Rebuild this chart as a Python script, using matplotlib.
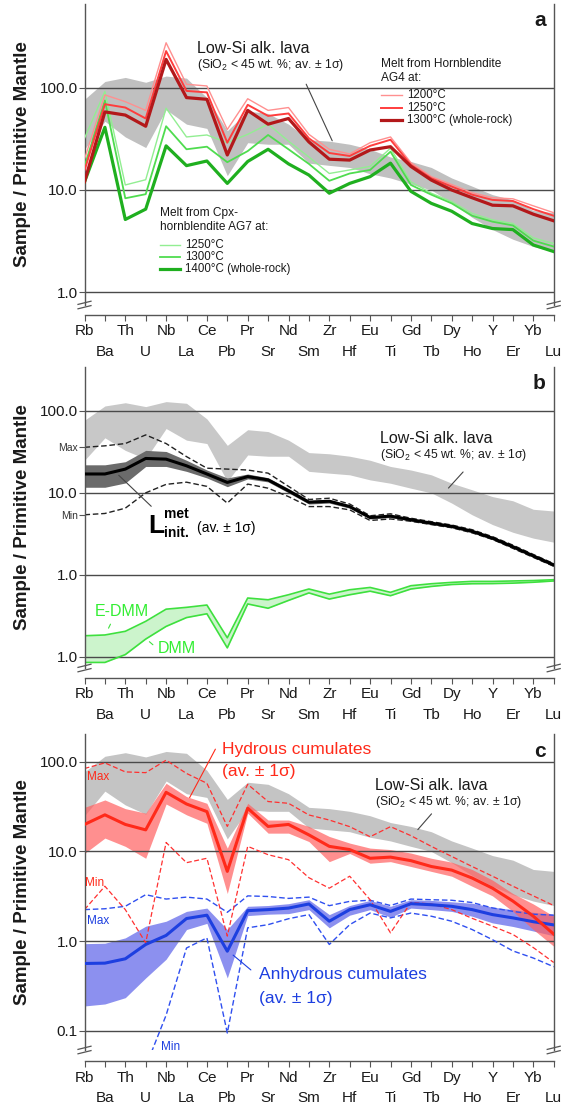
import numpy as np
import matplotlib

matplotlib.use("Agg")

import matplotlib.pyplot as plt
import matplotlib.ticker as mticker
import matplotlib.transforms as mtransforms
from matplotlib.lines import Line2D

plt.rcParams['font.family'] = ['Liberation Sans', 'DejaVu Sans']
plt.rcParams['mathtext.fontset'] = 'custom'
plt.rcParams['mathtext.rm'] = 'Liberation Sans'
plt.rcParams['mathtext.bf'] = 'Liberation Sans:bold'

# Elements of the spider diagram, in plotting order.
elements = ['Rb', 'Ba', 'Th', 'U', 'Nb', 'La', 'Ce', 'Pb', 'Pr', 'Sr', 'Nd',
            'Sm', 'Zr', 'Hf', 'Eu', 'Ti', 'Gd', 'Tb', 'Dy', 'Ho', 'Y', 'Er',
            'Yb', 'Lu']

# Low-Si alkaline lava field (av. +/- 1 sigma), same in every panel.
lavaHigh = [77, 115, 126, 113, 130, 124, 80, 38, 59, 56, 44, 31, 30, 28, 25,
            21, 19, 16.6, 13.1, 10.9, 9.0, 8.0, 6.3, 6.0]
lavaLow = [25, 47, 33, 26, 61, 44, 40, 13.8, 29, 28, 28, 18.3, 17.4, 16.6,
           14.4, 13.1, 11.4, 10.0, 7.5, 5.4, 4.1, 3.3, 2.8, 2.5]

# Panel a: melts from hornblendite AG4.
ag4_1200 = [20, 85, 73, 60, 275, 108, 104, 39, 78, 60, 64, 35, 25, 22.5, 29,
            33, 18.5, 13.5, 11.3, 9.4, 8.4, 8.2, 7.0, 6.0]
ag4_1250 = [15.5, 69, 64, 50, 228, 93, 90, 29, 68, 53, 56, 32, 23, 21.5, 27,
            31, 17.6, 13, 10.8, 9.0, 8.0, 7.8, 6.5, 5.6]
ag4_1300 = [12, 58, 54, 42, 189, 80, 77, 22, 60, 44, 50, 29.5, 20, 19.6, 24.6,
            26.5, 17, 12.5, 10, 8.4, 7.1, 7.0, 5.8, 5.0]

# Panel a: melts from Cpx-hornblendite AG7.
ag7_1250 = [32, 92, 11.2, 12.6, 63, 33, 34.5, 29, 35, 44, 30, 21, 14.5, 15.7,
            17, 25.6, 12, 9.3, 7.7, 5.9, 5.1, 4.7, 3.4, 3.0]
ag7_1300 = [17, 75, 8.3, 9.1, 42, 25, 26.5, 18.7, 24, 34.5, 25, 18, 12.3, 14.5,
            15.7, 23.7, 11.2, 9.0, 7.4, 5.6, 4.9, 4.5, 3.2, 2.8]
ag7_1400 = [12, 41, 5.15, 6.5, 27, 17.3, 19.2, 11.6, 19, 25, 18, 14, 9.3, 11.6,
            13.5, 18.3, 9.7, 7.4, 6.2, 4.7, 4.2, 4.1, 2.9, 2.5]

# Panel b: initial metasomatic liquid.
linitAv = [17, 17, 19.5, 26.3, 25.8, 21.4, 17, 13.4, 15.8, 14.4, 10.6, 7.7,
           7.9, 6.8, 5.0, 5.2, 4.7, 4.27, 3.9, 3.4, 2.8, 2.2, 1.7, 1.32]
linitHigh = [22, 22, 24, 33, 32, 25, 19, 15.2, 17, 15.3, 11.3, 8.1, 8.3, 7.1,
             5.2, 5.4, 4.9, 4.4, 4.05, 3.55, 2.92, 2.3, 1.77, 1.38]
linitLow = [11.7, 11.7, 13.2, 21, 21, 18.3, 15.2, 11.9, 14.8, 13.6, 10.0, 7.3,
            7.5, 6.5, 4.8, 5.0, 4.5, 4.1, 3.75, 3.25, 2.68, 2.1, 1.63, 1.26]
linitMax = [36, 37.5, 40, 51, 40, 27.7, 20, 19.5, 19, 17.4, 12, 8.3, 8.6, 7.3,
            5.25, 5.55, 4.9, 4.45, 4.05, 3.55, 2.92, 2.3, 1.77, 1.37]
linitMin = [5.4, 5.6, 6.5, 10, 12.7, 13.5, 12, 7.5, 12.8, 11.4, 9, 6.8, 6.8,
            6.2, 4.6, 4.8, 4.5, 4.1, 3.75, 3.25, 2.7, 2.1, 1.63, 1.27]

# Panel b: depleted mantle compositions.
edmm = [0.18, 0.184, 0.204, 0.27, 0.38, 0.40, 0.427, 0.17, 0.52, 0.495, 0.57,
        0.67, 0.58, 0.656, 0.70, 0.61, 0.735, 0.777, 0.807, 0.83, 0.83, 0.84,
        0.85, 0.87]
dmm = [0.085, 0.085, 0.106, 0.164, 0.234, 0.30, 0.334, 0.128, 0.44, 0.39,
       0.486, 0.60, 0.505, 0.57, 0.63, 0.555, 0.67, 0.72, 0.76, 0.777, 0.78,
       0.79, 0.81, 0.84]

# Panel c: hydrous cumulates.
hydAv = [20, 25.6, 20, 17.4, 45.6, 33.8, 27.8, 6.0, 30.3, 19, 20, 15.3, 11.4,
         10.5, 8.4, 8.65, 7.9, 6.8, 6.2, 5.06, 3.9, 2.8, 1.9, 1.2]
hydHigh = [31, 37.5, 30, 26.7, 57.5, 40.9, 34.4, 10.9, 34.4, 22.4, 22.4, 19,
           14.7, 12.4, 10.9, 10.5, 9.6, 8.4, 7.6, 6.3, 4.8, 3.4, 2.6, 1.9]
hydLow = [9.5, 14.1, 11.4, 8.4, 33.8, 25.6, 20.6, 3.4, 26.7, 16, 16, 12.9, 7.7,
          9.5, 7.4, 7.7, 6.8, 6.0, 5.3, 4.1, 3.2, 2.15, 1.35, 0.88]
hydMax = [84, 97, 77, 75.5, 104, 74, 57.5, 19, 56, 36, 34.4, 25.5, 22.4, 18.9,
          14.6, 18.9, 15, 11.4, 8.8, 6.8, 5.3, 4.1, 3.2, 2.5]
hydMin = [2.25, 4.1, 2.25, 0.96, 12.6, 7.5, 8.4, 1.14, 11.4, 9.2, 8.1, 5.1, 3.9,
          5.3, 2.9, 1.24, 2.7, 2.6, 2.25, 1.8, 1.47, 1.19, 0.85, 0.58]

# Panel c: anhydrous cumulates.
anhAv = [0.565, 0.57, 0.637, 0.92, 1.16, 1.79, 1.95, 0.774, 2.19, 2.25, 2.34,
         2.6, 1.67, 2.25, 2.55, 2.15, 2.62, 2.55, 2.45, 2.25, 1.98, 1.82, 1.65,
         1.52]
anhHigh = [0.94, 0.95, 1.09, 1.47, 1.67, 2.15, 2.34, 1.35, 2.45, 2.5, 2.62, 2.9,
           1.98, 2.5, 2.85, 2.45, 2.9, 2.85, 2.75, 2.65, 2.4, 2.25, 2.1, 2.0]
anhLow = [0.19, 0.2, 0.235, 0.39, 0.63, 1.35, 1.58, 0.39, 1.93, 2.0, 2.03, 2.25,
          1.41, 1.95, 2.25, 1.85, 2.34, 2.25, 2.15, 1.9, 1.6, 1.46, 1.3, 1.15]
anhMax = [2.25, 2.3, 2.45, 3.3, 2.95, 3.1, 2.95, 2.1, 3.2, 3.15, 3.0, 3.1, 2.49,
          2.78, 2.86, 2.5, 2.95, 2.9, 2.86, 2.7, 2.35, 2.15, 2.0, 1.95]
anhMin = [0.005, 0.006, 0.01, 0.04, 0.15, 0.84, 1.09, 0.095, 1.41, 1.53, 1.78,
          1.98, 0.92, 1.53, 2.06, 1.82, 2.06, 1.9, 1.67, 1.35, 1.04, 0.78, 0.65,
          0.52]

# Colors.
gridColor = '#4a4a4a'
spineColor = '#555555'
textColor = '#1a1a1a'

x = np.arange(len(elements))

fig = plt.figure(figsize=(5.72, 11.06), dpi=100, facecolor='white')

axA = fig.add_axes([0.14773, 0.72423, 0.82028, 0.27215])
axB = fig.add_axes([0.14773, 0.39602, 0.82028, 0.27215])
axC = fig.add_axes([0.14773, 0.05063, 0.82028, 0.28571])


'''
Common axis style: log y-axis with decade lines, broken bottom axis and two
rows of element labels.
'''
def SetupAxes(ax, yLim, decades, decadeLabels, letter, outward):
  ax.set_yscale('log')
  ax.set_xlim(0, len(elements) - 1)
  ax.set_ylim(*yLim)

  for d in decades:
    ax.axhline(d, color=gridColor, lw=1.0, zorder=1.5)

  ax.set_yticks(decades)
  ax.set_yticklabels(decadeLabels)
  ax.yaxis.set_minor_locator(mticker.NullLocator())

  ax.spines['top'].set_visible(False)
  ax.spines['bottom'].set_position(('outward', outward))
  for s in ['left', 'right', 'bottom']:
    ax.spines[s].set_color(spineColor)
    ax.spines[s].set_linewidth(1.0)

  # Alternate the element names on two rows.
  ax.set_xticks(x[::2])
  ax.set_xticklabels(elements[::2])
  ax.set_xticks(x[1::2], minor=True)
  ax.set_xticklabels(elements[1::2], minor=True)
  ax.tick_params(axis='x', which='both', length=4, width=0.8,
                 color=spineColor, labelsize=11, labelcolor=textColor)
  ax.tick_params(axis='x', which='major', pad=3)
  ax.tick_params(axis='x', which='minor', pad=17.5)
  ax.tick_params(axis='y', which='major', length=4, width=0.8,
                 color=spineColor, labelsize=11, pad=1, labelcolor=textColor)

  ax.text(-0.133, 0.5, 'Sample / Primitive Mantle', transform=ax.transAxes,
          rotation=90, ha='center', va='center', fontsize=13.5,
          fontweight='bold', color=textColor)
  ax.text(0.983, 0.945, letter, transform=ax.transAxes, ha='right',
          va='center', fontsize=15, fontweight='bold', color=textColor)

  # Axis break marks at the bottom of both vertical spines.
  for xa in (0, 1):
    px, py = ax.transAxes.transform((xa, 0))
    for dy in (-2.2, 2.2):
      fig.add_artist(Line2D([px - 6.5, px + 6.5],
                            [py + dy - 1.6, py + dy + 1.6],
                            transform=mtransforms.IdentityTransform(),
                            color=spineColor, lw=0.9))


'''
Label of the low-Si alkaline lava field with its leader line.
'''
def LavaLabel(ax, pos, subY, lineFrom, lineTo):
  ax.text(pos[0], pos[1], 'Low-Si alk. lava', fontsize=11.5, ha='left',
          va='center', color=textColor)
  ax.text(pos[0], subY, '(SiO$_2$ < 45 wt. %; av. ± 1σ)', fontsize=8.8,
          ha='left', va='center', color=textColor)
  ax.annotate('', xy=lineTo, xytext=lineFrom,
              arrowprops=dict(arrowstyle='-', color='#444444', lw=0.8))


# ---------------------------------------------------------------- panel a
SetupAxes(axA, (0.751, 658), [1, 10, 100], ['1.0', '10.0', '100.0'], 'a', 7)
axA.fill_between(x, lavaLow, lavaHigh, color='#c0c0c0', lw=0, zorder=1)

redColors = ['#ff9090', '#ff3d3d', '#b3181a']
redWidths = [1.0, 1.4, 2.3]
greenColors = ['#92ee92', '#4fdc4f', '#1faf1f']
greenWidths = [1.0, 1.3, 2.3]

for data, c, w in zip([ag7_1250, ag7_1300, ag7_1400], greenColors,
                      greenWidths):
  axA.plot(x, data, color=c, lw=w, zorder=3)
for data, c, w in zip([ag4_1200, ag4_1250, ag4_1300], redColors, redWidths):
  axA.plot(x, data, color=c, lw=w, zorder=3)

LavaLabel(axA, (5.5, 243), 167, (10.81, 114.5), (12.2, 28.6))

# Hornblendite AG4 legend.
axA.text(14.52, 171, 'Melt from Hornblendite', fontsize=8.6, va='center',
         color=textColor)
axA.text(14.52, 124, 'AG4 at:', fontsize=8.6, va='center', color=textColor)
for yl, lab, c, w in zip([84.8, 63, 48.3],
                         ['1200°C', '1250°C', '1300°C (whole-rock)'],
                         redColors, redWidths):
  axA.plot([14.52, 15.55], [yl, yl], color=c, lw=w)
  axA.text(15.82, yl, lab, fontsize=8.3, va='center', color=textColor)

# Cpx-hornblendite AG7 legend.
axA.text(3.70, 5.96, 'Melt from Cpx-', fontsize=8.6, va='center',
         color=textColor)
axA.text(3.70, 4.32, 'hornblendite AG7 at:', fontsize=8.6, va='center',
         color=textColor)
for yl, lab, c, w in zip([2.90, 2.20, 1.68],
                         ['1250°C', '1300°C', '1400°C (whole-rock)'],
                         greenColors, greenWidths):
  axA.plot([3.70, 4.68], [yl, yl], color=c, lw=w)
  axA.text(4.94, yl, lab, fontsize=8.3, va='center', color=textColor)

# ---------------------------------------------------------------- panel b
SetupAxes(axB, (0.0727, 344), [0.1, 1, 10, 100],
          ['1.0', '1.0', '10.0', '100.0'], 'b', 7)
axB.set_yticks([linitMax[0], linitMin[0]], ['Max', 'Min'], minor=True)
axB.tick_params(axis='y', which='minor', length=4, width=0.8,
                color=spineColor, labelsize=7.5, pad=1, labelcolor='#333333')

axB.fill_between(x, lavaLow, lavaHigh, color='#c8c8c8', lw=0, zorder=1)
axB.fill_between(x, linitLow, linitHigh, color='#6b6b6b', lw=0, zorder=1.2)
axB.plot(x, linitMax, color='#222222', lw=1.0, ls=(0, (4, 2)), zorder=2)
axB.plot(x, linitMin, color='#222222', lw=1.0, ls=(0, (4, 2)), zorder=2)
axB.plot(x, linitAv, color='black', lw=2.2, zorder=3)

dmmColor = '#3ee03e'
axB.fill_between(x, dmm, edmm, color='#ccf4cc', lw=0, zorder=1)
axB.plot(x, edmm, color=dmmColor, lw=1.2, zorder=2)
axB.plot(x, dmm, color=dmmColor, lw=1.2, zorder=2)

LavaLabel(axB, (14.49, 46.4), 29.0, (18.65, 19.05), (17.75, 10.8))

axB.text(3.11, 3.98, 'L', fontsize=19, fontweight='bold', va='center',
         color='black')
axB.text(3.90, 5.52, 'met', fontsize=10, fontweight='bold', va='center',
         color='black')
axB.text(3.90, 3.21, 'init.', fontsize=10, fontweight='bold', va='center',
         color='black')
axB.text(5.5, 3.70, '(av. ± 1σ)', fontsize=10, va='center', color='black')
axB.annotate('', xy=(1.58, 17.3), xytext=(3.37, 6.49),
             arrowprops=dict(arrowstyle='-', color='#444444', lw=0.8))

axB.text(0.515, 0.354, 'E-DMM', fontsize=11.5, va='center', color='#33ee33')
axB.text(3.57, 0.1268, 'DMM', fontsize=11.5, va='center', color='#33ee33')
axB.annotate('', xy=(1.118, 0.2077), xytext=(1.333, 0.2675),
             arrowprops=dict(arrowstyle='-', color=dmmColor, lw=0.8))
axB.annotate('', xy=(3.078, 0.1603), xytext=(3.456, 0.1327),
             arrowprops=dict(arrowstyle='-', color=dmmColor, lw=0.8))

# ---------------------------------------------------------------- panel c
SetupAxes(axC, (0.0614, 203.5), [0.1, 1, 10, 100],
          ['0.1', '1.0', '10.0', '100.0'], 'c', 8)

hydColor = '#ff2a1a'
anhColor = '#1d3fe0'

axC.fill_between(x, lavaLow, lavaHigh, color='#c4c4c4', lw=0, zorder=1)
axC.fill_between(x, anhLow, anhHigh, color='#6f75ec', alpha=0.8, lw=0,
                 zorder=1.1)
axC.fill_between(x, hydLow, hydHigh, color='#ff6060', alpha=0.7, lw=0,
                 zorder=1.2)

axC.plot(x, anhMax, color='#2f4ff0', lw=1.0, ls=(0, (4, 2)), zorder=2)
axC.plot(x, anhMin, color='#2f4ff0', lw=1.0, ls=(0, (4, 2)), zorder=2)
axC.plot(x, hydMax, color='#ff3030', lw=0.9, ls=(0, (4, 2)), zorder=2)
axC.plot(x, hydMin, color='#ff3030', lw=0.9, ls=(0, (4, 2)), zorder=2)
axC.plot(x, anhAv, color=anhColor, lw=2.2, zorder=3)
axC.plot(x, hydAv, color=hydColor, lw=2.2, zorder=3)

LavaLabel(axC, (14.24, 55.0), 35.8, (17.10, 27.7), (16.25, 16.6))

axC.text(6.73, 138.5, 'Hydrous cumulates', fontsize=12.5, va='center',
         color=hydColor)
axC.text(6.73, 77.4, '(av. ± 1σ)', fontsize=12.5, va='center',
         color=hydColor)
axC.annotate('', xy=(5.09, 37.4), xytext=(6.48, 146.9),
             arrowprops=dict(arrowstyle='-', color=hydColor, lw=0.8))

axC.text(8.53, 0.4207, 'Anhydrous cumulates', fontsize=12.5, va='center',
         color=anhColor)
axC.text(8.53, 0.2314, '(av. ± 1σ)', fontsize=12.5, va='center',
         color=anhColor)
axC.annotate('', xy=(7.18, 0.7334), xytext=(8.26, 0.4574),
             arrowprops=dict(arrowstyle='-', color=anhColor, lw=0.8))

axC.text(0.11, 68.1, 'Max', fontsize=8.5, va='center', color=hydColor)
axC.text(0.03, 4.49, 'Min', fontsize=8.5, va='center', color=hydColor)
axC.text(0.14, 1.693, 'Max', fontsize=8.5, va='center', color=anhColor)
axC.text(3.74, 0.0664, 'Min', fontsize=8.5, va='center', color=anhColor)

fig.savefig('out.png', dpi=100, facecolor=fig.get_facecolor())
plt.close()
